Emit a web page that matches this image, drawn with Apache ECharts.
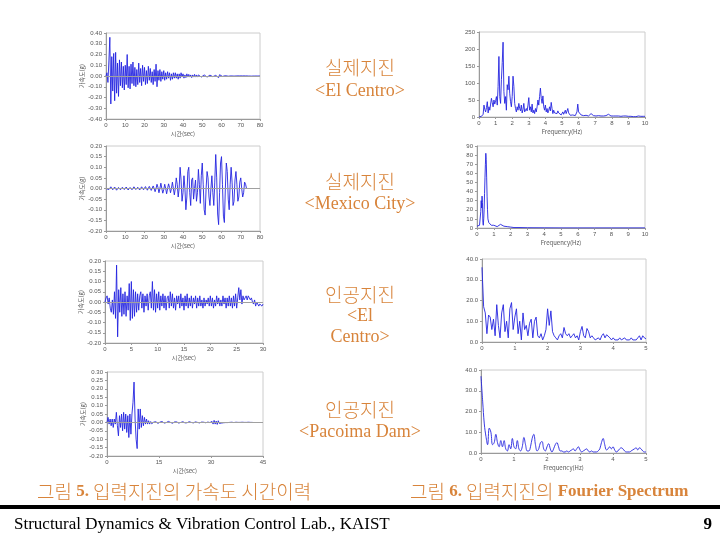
<!DOCTYPE html>
<html><head><meta charset="utf-8">
<script src="https://cdn.jsdelivr.net/npm/echarts@6/dist/echarts.min.js"></script>
<style>html,body{margin:0;padding:0;background:#fff}#c{width:720px;height:540px}</style>
</head><body><div id="c"></div>
<script>
// ---- Data ----
// Time histories (uniform time step)
const elcDt = 0.5;
const elcAcc = [0.00,0.03,-0.06,0.14,0.36,-0.26,0.18,-0.14,0.21,-0.23,0.22,-0.16,0.12,-0.19,0.15,-0.09,0.13,-0.11,0.09,-0.13,0.10,
 -0.08,0.20,-0.11,0.09,-0.12,0.11,-0.07,0.13,-0.09,0.08,
 -0.10,0.06,-0.08,0.12,-0.06,0.07,-0.09,0.10,-0.05,0.08,
 -0.08,0.05,-0.07,0.09,-0.04,0.07,-0.06,0.04,-0.08,0.06,
 -0.05,0.11,-0.10,0.05,-0.04,0.06,-0.05,0.04,-0.03,0.05,
 -0.04,0.03,-0.03,0.04,-0.02,0.03,-0.04,0.02,-0.03,0.03,-0.02,0.03,-0.02,0.02,-0.03,0.02,-0.02,0.03,-0.01,0.02,
 -0.02,0.01,-0.015,0.02,-0.01,0.015,-0.01,0.01,-0.015,0.01,
 -0.01,0.015,-0.01,0.01,-0.01,0.01,-0.008,0.01,-0.01,0.008,
 -0.01,0.01,-0.008,0.01,-0.01,0.008,-0.006,0.008,-0.008,0.006,
 -0.006,0.006,-0.005,0.006,-0.006,0.012,-0.015,0.012,-0.005,0.004,
 -0.004,0.004,-0.003,0.003,-0.002,0.002,-0.002,0.002,-0.001,0.001,
 -0.001,0.001,-0.001,0.001,0,0.001,-0.001,0,0.001,-0.001,
 0,0.001,-0.001,0,0.001,0,-0.001,0,0.001,0,
 -0.001,0,0.001,0,0,-0.001,0,0.001,0,0];

const mexDt = 0.5;
const mexAcc = [0,0.006,0,-0.005,0,0.008,0.002,-0.006,0,0.007,0,-0.008,-0.002,0.005,0,-0.006,0,0.006,0.001,-0.005,
 0,0.007,0,-0.007,0,0.005,0,-0.006,0.001,0.008,0,-0.005,0,0.006,0,-0.007,0,0.008,0.002,-0.006,
 0,0.009,0,-0.008,0,0.01,0.002,-0.009,0,0.012,
 0,-0.015,0,0.02,0.005,-0.02,0,0.025,0,-0.022,-0.005,0.02,0,-0.025,0,0.022,0.005,-0.02,0,0.03,
 0,-0.03,0,0.05,0.02,-0.04,0,0.10,0.04,-0.06,-0.02,0.06,0,-0.10,-0.04,0.08,0.10,-0.02,-0.08,0.04,
 0.05,-0.05,0,0.04,-0.06,-0.02,0.09,0.02,-0.07,0.06,0.12,0.02,-0.10,-0.125,0,0.08,0.05,-0.04,-0.08,0,
 0.06,-0.02,-0.08,0.03,0.16,0.05,-0.12,-0.17,-0.02,0.12,0.15,0.02,-0.13,-0.16,0,0.12,0.08,-0.05,-0.10,0.02,
 0.10,0.03,-0.08,-0.06,0.04,0.08,0.02,-0.06,-0.04,0.03,0.05,0,-0.04,-0.02,0.03,0.02,0];

const artDt = 0.2;
const artAcc = [0.00,0.02,0.03,-0.01,0.02,-0.03,-0.05,0.01,-0.06,0.05,
 -0.08,0.18,-0.17,0.06,-0.05,0.07,-0.07,0.04,-0.06,0.05,
 -0.07,0.03,-0.04,0.09,-0.09,0.10,-0.08,0.06,-0.07,0.05,
 -0.05,0.04,-0.04,0.03,0.05,-0.03,0.04,-0.05,0.03,-0.02,
 0.04,-0.04,0.03,0.05,-0.03,0.10,-0.04,0.06,-0.05,0.04,
 -0.03,0.05,-0.04,0.03,-0.02,0.04,-0.03,0.03,-0.04,0.02,
 0.03,-0.03,0.05,-0.02,0.04,-0.03,0.02,-0.04,0.03,-0.01,
 0.03,-0.03,0.04,-0.02,0.02,-0.04,0.03,-0.02,0.04,-0.03,
 0.02,-0.02,0.03,-0.03,0.02,-0.01,0.03,-0.03,0.02,-0.02,
 0.03,-0.02,0.01,-0.03,0.02,-0.02,0.01,-0.01,0.02,-0.02,
 0.03,-0.02,0.02,-0.03,0.01,-0.02,0.03,-0.01,0.02,-0.02,
 0.01,-0.02,0.03,-0.01,0.02,-0.03,0.02,-0.02,0.03,-0.02,
 0.02,-0.03,0.03,-0.02,0.04,-0.03,0.02,0.07,0.01,0.06,
 -0.01,0.03,0.01,0.02,0.03,0.01,0.03,0.02,0.01,0.02,
 0.00,-0.01,0.01,-0.02,0.00,-0.01,-0.02,-0.01,-0.01,-0.02,-0.01];

const pacDt = 0.3;
const pacAcc = [0.00,0.03,-0.01,0.02,-0.02,0.02,-0.03,0.02,-0.01,0.06,
 -0.02,-0.08,0.04,-0.03,0.05,-0.05,0.06,-0.04,0.05,-0.06,
 0.04,-0.09,0.05,-0.07,0.05,0.12,0.24,0.02,-0.10,-0.156,
 0.08,-0.04,0.08,-0.03,0.04,-0.02,0.03,-0.01,0.02,-0.01,
 0.01,-0.01,0.005,-0.008,-0.005,0.002,0.006,0.004,-0.002,-0.006,
 -0.004,0.002,0.006,0.005,0.001,-0.004,-0.005,-0.001,0.004,0.006,
 0.004,0,-0.004,-0.005,-0.002,0.003,0.005,0.003,-0.001,-0.004,
 -0.004,0,0.004,0.004,0.001,-0.003,-0.004,-0.002,0.002,0.004,
 0.003,0,-0.003,-0.003,0,0.003,0.003,0,-0.002,-0.003,
 -0.001,0.002,0.003,0.001,-0.002,-0.002,0,0.002,0.002,-0.001,
 -0.003,0.006,-0.01,0.012,-0.01,0.008,-0.012,0.01,-0.006,0.005,
 -0.004,0.003,-0.002,0.002,-0.001,0.001,-0.001,0.001,0,0,
 0.001,0,-0.001,0,0.001,0,0,-0.001,0,0,
 0.001,0,0,-0.001,0,0,0.001,0,0,0,0];

// Fourier spectra
const elcDf = 0.05;
const elcFour = [0,2,3,2,4,8,35,22,15,28,
 45,12,30,20,38,55,42,30,50,38,
 48,60,35,90,178,60,40,110,160,220,
 75,40,60,20,95,80,120,70,45,30,
 60,120,90,40,25,15,30,20,40,25,
 18,35,12,22,40,15,10,25,18,35,
 57,20,30,15,38,12,20,10,25,15,
 30,50,35,60,85,55,40,62,30,20,
 35,15,25,12,20,30,18,43,25,10,
 20,12,8,15,10,18,12,8,14,6,
 10,15,8,12,20,10,6,25,12,8,
 5,8,4,6,3,5,4,8,15,38,
 15,10,12,6,8,5,4,6,3,5,
 4,6,3,8,5,10,14,6,4,8,
 5,3,6,8,4,5,7,3,4,6,
 3,5,2,4,6,3,8,12,5,3,
 4,6,3,2,4,3,2,5,3,2,
 3,2,4,2,3,1,2,3,2,1,
 2,3,1,2,4,2,1,3,2,1,
 2,1,3,2,1,2,3,1,2,1,2];

const mexFreq = [0,0.05,0.1,0.15,0.2,0.225,0.25,0.275,0.3,0.325,0.35,0.375,0.4,0.425,0.45,0.475,0.5,0.525,0.55,0.575,0.6,0.625,0.65,0.7,0.75,0.8,0.85,0.9,1.0,1.1,1.2,1.3,1.4,1.5,1.6,1.7,1.8,2.0,2.2,2.5,3,4,5,6,7,8,9,10];
const mexFour = [2,3,4,3,5,18,30,22,35,28,6,3,10,20,38,55,70,82,75,55,35,20,10,6,4,5,3,2,3,2,1.5,3,4,3,2,1,1.5,1,0.5,0.5,0.3,0.2,0.1,0.1,0.1,0.1,0.1,0.1];

const artDf = 0.05;
const artFour = [36,17,14,4,13,12,6,11,3,18,
 8,2,14,18,5,10,2,16,19,6,
 12,16,4,10,1,14,6,8,3,9,
 11,2,10,12,3,2,4,1,3,6,
 16,8,15,5,3,2,1,3,4,2,
 7,4,3,4,2,3,4,2,3,1,
 5,7.5,3,2,6.5,5,2,3,2,1,
 1,2,1,3,4,2,3.5,4,2,1,
 2,1,1.5,1,2,1,1.5,2,1,1.5,
 1,2,1,1.5,1,2,3,1,3,2,1.5];

const pacDf = 0.05;
const pacFour = [37,25,14,8,4,12,10,4,5,9,
 5,3,6,3,6,2,1,4,2,7,
 3,2,6,2,1,3,7.5,4,1,1,
 3,7,9,4,1,2,5,5.5,2,1,
 3,4.5,2,0.5,2,4,5,3,1,1,
 0.5,0.5,1,0.5,1,1.5,2,1,2,3,
 1.5,0.5,1,1.5,2,1,0.5,1,0.5,0.5,
 0.5,1,2,5,7,4,1.5,2,3,2,
 3,1.5,0.5,1,2,2.5,2,1,0.5,0.5,
 0.5,1,1.5,2,2.5,1.5,2.5,2,1,0.5,0.5];

// Texts
const yTitleAcc = '가속도(g)';
const xTitleTime = '시간(sec)';
const xTitleFreq = 'Frequency(Hz)';
const captions = [
  ['실제지진', '<El Centro>'],
  ['실제지진', '<Mexico City>'],
  ['인공지진', '<El', 'Centro>'],
  ['인공지진', '<Pacoima Dam>']
];
const footer = 'Structural Dynamics & Vibration Control Lab., KAIST';
const pageNo = '9';

// ---- Build chart ----
const LINE = '#2424e0';
const AX = '#9a9a9a';
const LBL = '#555';
const panels = [
  {g:{left:106,top:33,width:154,height:86}, x:[0,80,10], y:[-0.4,0.4,0.1,2], xn:xTitleTime, yn:yTitleAcc, data:elcAcc.map((v,i)=>[i*elcDt,v]), zero:true},
  {g:{left:479,top:32,width:166,height:85}, x:[0,10,1], y:[0,250,50,0], xn:xTitleFreq, yn:'', data:elcFour.map((v,i)=>[i*elcDf,v])},
  {g:{left:106,top:146,width:154,height:85}, x:[0,80,10], y:[-0.2,0.2,0.05,2], xn:xTitleTime, yn:yTitleAcc, data:mexAcc.map((v,i)=>[i*mexDt,v]), zero:true},
  {g:{left:477,top:146,width:168,height:82}, x:[0,10,1], y:[0,90,10,0], xn:xTitleFreq, yn:'', data:mexFreq.map((f,i)=>[f,mexFour[i]])},
  {g:{left:105,top:261,width:158,height:82}, x:[0,30,5], y:[-0.2,0.2,0.05,2], xn:xTitleTime, yn:yTitleAcc, data:artAcc.map((v,i)=>[i*artDt,v]), zero:true},
  {g:{left:482,top:259,width:164,height:83}, x:[0,5,1], y:[0,40,10,1], xn:'', yn:'', data:artFour.map((v,i)=>[i*artDf,v])},
  {g:{left:107,top:372,width:156,height:84}, x:[0,45,15], y:[-0.2,0.3,0.05,2], xn:xTitleTime, yn:yTitleAcc, data:pacAcc.map((v,i)=>[i*pacDt,v]), zero:true},
  {g:{left:481,top:370,width:165,height:83}, x:[0,5,1], y:[0,40,10,1], xn:xTitleFreq, yn:'', data:pacFour.map((v,i)=>[i*pacDf,v]), smooth:true}
];

const grid=[], xAxis=[], yAxis=[], series=[];
panels.forEach((p,i)=>{
  grid.push(Object.assign({show:true, borderColor:'#cccccc', borderWidth:1, backgroundColor:'#fff'}, p.g));
  xAxis.push({type:'value', gridIndex:i, min:p.x[0], max:p.x[1], interval:p.x[2],
    axisLine:{onZero:false, lineStyle:{color:AX}}, axisTick:{show:true,length:2,lineStyle:{color:AX}},
    splitLine:{show:false}, axisLabel:{fontSize:6, color:LBL, margin:3, fontFamily:'Liberation Sans'},
    name:p.xn, nameLocation:'middle', nameGap:12, nameTextStyle:{fontSize:6, color:LBL, fontFamily:'Noto Sans CJK KR'}});
  yAxis.push({type:'value', gridIndex:i, min:p.y[0], max:p.y[1], interval:p.y[2],
    axisLine:{show:true, lineStyle:{color:AX}}, axisTick:{show:true,length:2,lineStyle:{color:AX}},
    splitLine:{show:false}, axisLabel:{fontSize:6, color:LBL, margin:4, fontFamily:'Liberation Sans',
      formatter:(v)=>v.toFixed(p.y[3])},
    name:p.yn, nameLocation:'middle', nameGap:21, nameTextStyle:{fontSize:6, color:LBL, fontFamily:'Noto Sans CJK KR'}});
  if(p.zero){
    series.push({type:'line', xAxisIndex:i, yAxisIndex:i, data:[], z:1, silent:true,
      markLine:{silent:true, symbol:'none', label:{show:false}, animation:false,
        lineStyle:{color:'#a0a0a0', width:1, type:'solid'}, data:[{yAxis:0}]}});
  }
  series.push({type:'line', xAxisIndex:i, yAxisIndex:i, data:p.data, showSymbol:false, z:2,
    smooth:p.smooth?0.4:false, lineStyle:{color:LINE, width:0.9}, itemStyle:{color:LINE}, silent:true});
});

const ORANGE = '#d8843b';
const KR = '"Noto Sans CJK KR"';
const SERIF = '"Liberation Serif"';
const capY = [[68,91],[182,204],[295,316,337],[410,432]];
const graphic = [];
captions.forEach((c,i)=>{
  c.forEach((t,j)=>{
    const kr = j===0;
    graphic.push({type:'text', style:{text:t, x:360, y:capY[i][j], textAlign:'center', textVerticalAlign:'middle',
      fill:ORANGE, font: kr ? ('300 19px '+KR) : ('18px '+SERIF)}});
  });
});
const richCap = {k:{fontFamily:'Noto Sans CJK KR', fontWeight:300, fontSize:19, fill:ORANGE, color:ORANGE},
        n:{fontFamily:'Liberation Serif', fontSize:17, fontWeight:'bold', fill:ORANGE, color:ORANGE}};
graphic.push({type:'text', style:{x:37, y:492, textVerticalAlign:'middle', fill:ORANGE,
  text:'{k|그림 }{n|5.}{k| 입력지진의 가속도 시간이력}', rich:richCap}});
graphic.push({type:'text', style:{x:410, y:492, textVerticalAlign:'middle', fill:ORANGE,
  text:'{k|그림 }{n|6.}{k| 입력지진의 }{n|Fourier Spectrum}', rich:richCap}});
graphic.push({type:'rect', shape:{x:0, y:505, width:720, height:4}, style:{fill:'#000'}});
graphic.push({type:'text', style:{text:footer, x:14, y:525, textVerticalAlign:'middle', fill:'#000', font:'17px '+SERIF}});
graphic.push({type:'text', style:{text:pageNo, x:712, y:525, textAlign:'right', textVerticalAlign:'middle', fill:'#000', font:'bold 17px '+SERIF}});

const chart = echarts.init(document.getElementById('c'));
chart.setOption({animation:false, backgroundColor:'#fff', grid, xAxis, yAxis, series, graphic});
</script></body></html>
